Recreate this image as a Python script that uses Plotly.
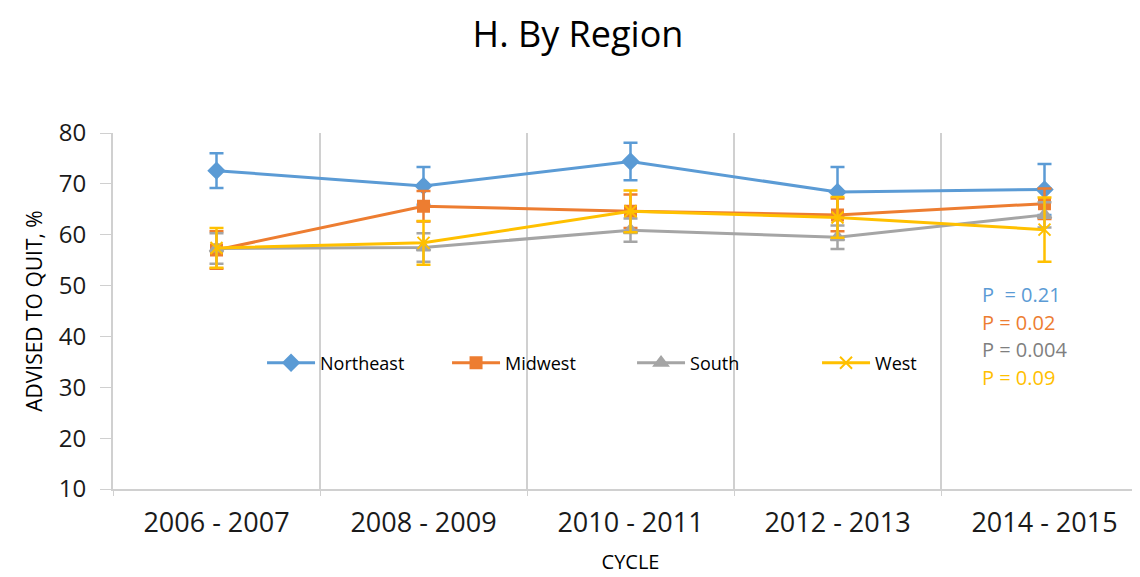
import plotly.graph_objects as go

cycles = ["2006 - 2007", "2008 - 2009", "2010 - 2011", "2012 - 2013", "2014 - 2015"]

northeast = [72.6, 69.6, 74.4, 68.4, 68.9]
northeast_err = [3.4, 3.7, 3.7, 4.9, 5.0]
midwest = [57.0, 65.6, 64.6, 63.9, 66.1]
midwest_err = [3.7, 3.0, 3.3, 3.2, 3.0]
south = [57.3, 57.5, 60.9, 59.5, 63.9]
south_err = [3.0, 2.8, 2.3, 2.3, 2.5]
west = [57.4, 58.4, 64.6, 63.4, 61.0]
west_err = [3.9, 4.3, 4.1, 4.0, 6.3]

p_labels = ["P  = 0.21", "P = 0.02", "P = 0.004", "P = 0.09"]

series = [
    ("Northeast", northeast, northeast_err, "#5B9BD5", "diamond", 12),
    ("Midwest", midwest, midwest_err, "#ED7D31", "square", 11),
    ("South", south, south_err, "#A5A5A5", "triangle-up", 12),
    ("West", west, west_err, "#FFC000", "x-thin-open", 12),
]
text_colors = ["#5B9BD5", "#ED7D31", "#7F7F7F", "#FFC000"]

FONT = "Open Sans"

fig = go.Figure()
for name, vals, errs, color, sym, size in series:
    fig.add_trace(go.Scatter(
        x=cycles, y=vals, name=name, mode="lines+markers",
        line=dict(color=color, width=3),
        marker=dict(symbol=sym, size=size, color=color,
                    line=dict(color=color, width=2)),
        error_y=dict(type="data", array=errs, visible=True,
                     color=color, thickness=2.5, width=7),
    ))

for i, (txt, col) in enumerate(zip(p_labels, text_colors)):
    fig.add_annotation(
        x=0.8377, xref="paper", xanchor="left",
        y=0.545 - i * 0.077, yref="paper", yanchor="middle",
        text=txt, showarrow=False,
        font=dict(family=FONT, size=20, color=col),
    )

fig.update_layout(
    width=1140, height=577,
    margin=dict(l=105, r=0, t=125, b=96),
    paper_bgcolor="white", plot_bgcolor="white",
    title=dict(text="H. By Region", x=0.5, xanchor="center",
               y=1 - 26 / 577, yanchor="middle",
               font=dict(family=FONT, size=36, color="black")),
    font=dict(family=FONT, color="black"),
    showlegend=True,
    legend=dict(orientation="h", x=0.144, y=0.354, xanchor="left",
                yanchor="middle", bgcolor="rgba(0,0,0,0)",
                font=dict(family=FONT, size=18, color="black"),
                entrywidth=122, itemwidth=48),
)

fig.update_xaxes(
    type="category", range=[-0.5, 4.5],
    tickson="boundaries", showgrid=True, gridcolor="#D0D0D0", gridwidth=2,
    showline=True, linecolor="#D0D0D0", linewidth=2,
    ticks="outside", ticklen=5, tickcolor="#D0D0D0",
    ticklabelstandoff=9,
    tickfont=dict(family=FONT, size=27, weight=500, color="#1a1a1a"),
    title=dict(text="CYCLE", font=dict(family=FONT, size=20, color="black"),
               standoff=16),
)
fig.update_yaxes(
    range=[10, 80], dtick=10, showgrid=False, zeroline=False,
    showline=True, linecolor="#D0D0D0", linewidth=2,
    ticks="outside", ticklen=11, tickcolor="#D0D0D0",
    ticklabelstandoff=9,
    tickfont=dict(family=FONT, size=24, weight=500, color="#1a1a1a"),
    title=dict(text="ADVISED TO QUIT, %", font=dict(family=FONT, size=21, color="black"),
               standoff=10),
)

fig.write_html("out.html")
